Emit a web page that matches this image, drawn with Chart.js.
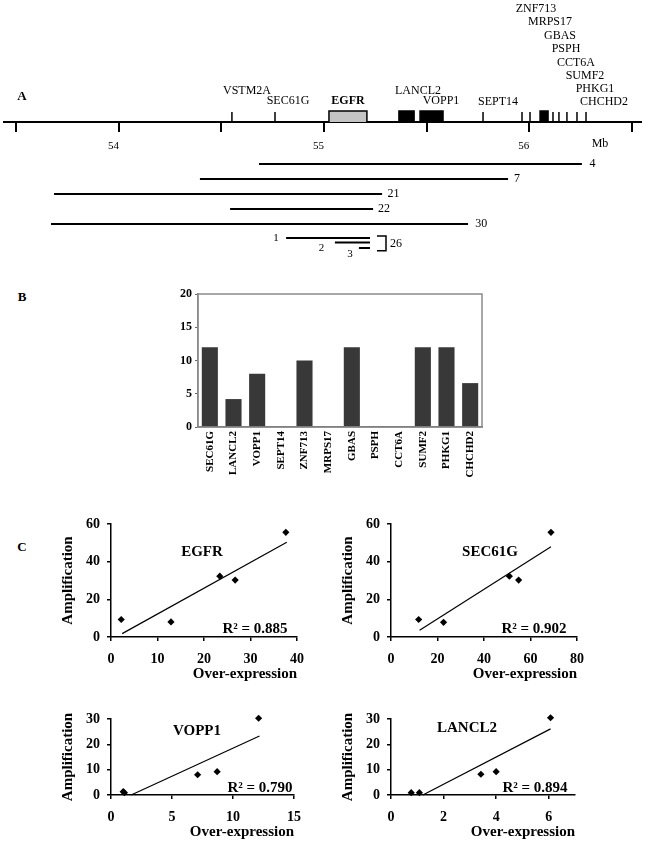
<!DOCTYPE html>
<html>
<head>
<meta charset="utf-8">
<script src="https://cdn.jsdelivr.net/npm/chart.js@4.4.1/dist/chart.umd.min.js"></script>
<style>
  html, body { margin: 0; padding: 0; background: #fff; }
  #fig { position: relative; width: 645px; height: 845px; overflow: hidden;
         font-family: 'Liberation Serif', 'Times New Roman', serif; color: #000; }
  #fig canvas { position: absolute; }
  .t { position: absolute; white-space: nowrap; transform: translate(-50%, -50%); line-height: 1; }
  .b { font-weight: bold; }
</style>
</head>
<body>
<div id="fig"></div>
<script>
// ---------- data: panel A (map, Mb) ----------
const majorTicks = [53.5, 54, 54.5, 55, 55.5, 56, 56.5];
const geneNames = ['VSTM2A', 'SEC61G', 'EGFR', 'LANCL2', 'VOPP1', 'SEPT14', 'ZNF713',
                   'MRPS17', 'GBAS', 'PSPH', 'CCT6A', 'SUMF2', 'PHKG1', 'CHCHD2'];
const geneStart = [54.551, 54.761, 55.024, 55.365, 55.468, 55.775, 55.965,
                   56.004, 56.053, 56.116, 56.145, 56.184, 56.233, 56.277];
const geneEnd   = [54.551, 54.761, 55.209, 55.439, 55.580, 55.775, 55.965,
                   56.004, 56.092, 56.116, 56.145, 56.184, 56.233, 56.277];

const caseLabels = ['4', '7', '21', '22', '30', '1', '2', '3'];
const caseStart = [54.683, 54.395, 53.684, 54.542, 53.669, 54.815, 55.053, 55.170];
const caseEnd   = [56.257, 55.897, 55.283, 55.239, 55.702, 55.224, 55.224, 55.224];
const bracketLabel = '26';

// ---------- data: panel B ----------
const barGenes = ['SEC61G', 'LANCL2', 'VOPP1', 'SEPT14', 'ZNF713', 'MRPS17',
                  'GBAS', 'PSPH', 'CCT6A', 'SUMF2', 'PHKG1', 'CHCHD2'];
const barValues = [12, 4.2, 8, 0, 10, 0, 12, 0, 0, 12, 12, 6.6];
const barTicks = [0, 5, 10, 15, 20];

// ---------- data: panel C ----------
const egfrX = [2.2, 12.9, 23.4, 26.7, 37.6];
const egfrY = [9.3, 8.0, 32.3, 30.2, 55.6];
const egfrFit = [[2.4, 1.8], [37.8, 50.3]];
const sec61gX = [11.9, 22.6, 50.9, 54.9, 68.8];
const sec61gY = [9.3, 7.8, 32.3, 30.2, 55.6];
const sec61gFit = [[12.3, 3.6], [68.8, 47.9]];
const vopp1X = [1.0, 1.1, 7.1, 8.7, 12.1];
const vopp1Y = [1.3, 0.9, 8.0, 9.2, 30.3];
const vopp1Fit = [[1.65, 0], [12.17, 23.3]];
const lanclX = [0.77, 1.08, 3.42, 4.0, 6.07];
const lanclY = [0.9, 0.9, 8.2, 9.2, 30.5];
const lanclFit = [[1.21, 0], [6.07, 26.1]];
const ticks40 = [0, 10, 20, 30, 40];
const ticks80 = [0, 20, 40, 60, 80];
const ticks15 = [0, 5, 10, 15];
const ticks6 = [0, 2, 4, 6];
const ampTicks60 = [0, 20, 40, 60];
const ampTicks30 = [0, 10, 20, 30];

// ---------- layout ----------
const fig = document.getElementById('fig');
const SERIF = "'Liberation Serif', 'Times New Roman', serif";
Chart.defaults.font.family = SERIF;
Chart.defaults.color = '#000';
Chart.defaults.animation = false;
Chart.defaults.plugins.legend.display = false;
Chart.defaults.plugins.tooltip.enabled = false;

function addCanvas(left, top, w, h) {
  const c = document.createElement('canvas');
  c.width = w; c.height = h;
  c.style.left = left + 'px'; c.style.top = top + 'px';
  c.style.width = w + 'px'; c.style.height = h + 'px';
  fig.appendChild(c);
  return c;
}
function txt(s, x, y, size, bold) {
  const d = document.createElement('div');
  d.className = 't' + (bold ? ' b' : '');
  d.textContent = s;
  d.style.left = x + 'px'; d.style.top = y + 'px'; d.style.fontSize = size + 'px';
  fig.appendChild(d);
}
const fixTicks = vals => s => { s.ticks = vals.map(v => ({value: v})); };

// panel A: gene map
const GENE_TICK = 10, GENE_BOX = 11;
const mapX = {type: 'linear', min: 53.44, max: 56.545};
new Chart(addCanvas(0, 0, 645, 160), {
  type: 'line',
  data: {
    datasets: geneNames.map((g, i) => {
      const s = geneStart[i], e = geneEnd[i], box = e > s;
      return {
        data: box ? [{x: s, y: 0}, {x: s, y: GENE_BOX}, {x: e, y: GENE_BOX}, {x: e, y: 0}]
                  : [{x: s, y: 0}, {x: s, y: GENE_TICK}],
        borderColor: '#000', borderWidth: 1.5, pointRadius: 0, clip: false,
        fill: box ? 'origin' : false,
        backgroundColor: g === 'EGFR' ? '#c4c4c4' : '#000'
      };
    })
  },
  options: {
    responsive: false, events: [],
    layout: {padding: {left: 4, right: 4, top: 0, bottom: 0}},
    scales: {
      x: {...mapX, z: 1, afterBuildTicks: fixTicks(majorTicks), afterFit: s => { s.height = 38; },
          grid: {drawOnChartArea: false, tickLength: 10, lineWidth: 2, color: '#000'},
          border: {color: '#000', width: 2},
          ticks: {autoSkip: false, maxRotation: 0, align: 'end', padding: 8, font: {size: 11},
                  callback: v => Number.isInteger(v) ? String(v) : ''}},
      y: {display: false, min: 0, max: 122}
    }
  }
});

// panel A: amplified segments
const caseRow = [0, 1, 2, 3, 4, 4.93, 5.23, 5.6];
const caseSide = ['end', 'end', 'end', 'end', 'end', 'start', 'start', 'start'];
const caseDx = [7.7, 6, 5.4, 5, 7.3, -10, -13.5, -9];
const caseDy = [0, 0, 0, 0, 0, 0, 6, 6];
const bracketX = [55.258, 55.302], bracketRows = [4.8, 5.78];
const caseLabelPlugin = {
  id: 'caseLabels',
  afterDatasetsDraw(chart) {
    const {ctx, scales: {x, y}} = chart;
    ctx.save();
    ctx.fillStyle = '#000';
    ctx.textBaseline = 'middle';
    caseLabels.forEach((t, i) => {
      const atEnd = caseSide[i] === 'end';
      const px = x.getPixelForValue(atEnd ? caseEnd[i] : caseStart[i]) + caseDx[i];
      const py = y.getPixelForValue(caseRow[i]) + caseDy[i];
      ctx.font = (atEnd ? 12 : 11) + 'px ' + SERIF;
      ctx.textAlign = atEnd ? 'left' : 'center';
      ctx.fillText(t, px, py);
    });
    ctx.font = '12px ' + SERIF;
    ctx.textAlign = 'left';
    ctx.fillText(bracketLabel, x.getPixelForValue(bracketX[1]) + 4,
                 y.getPixelForValue((bracketRows[0] + bracketRows[1]) / 2));
    ctx.restore();
  }
};
new Chart(addCanvas(0, 149, 645, 120), {
  type: 'line',
  data: {
    datasets: [
      ...caseLabels.map((c, i) => ({
        data: [{x: caseStart[i], y: caseRow[i]}, {x: caseEnd[i], y: caseRow[i]}],
        borderColor: '#000', borderWidth: 2, pointRadius: 0, clip: false
      })),
      {data: [{x: bracketX[0], y: bracketRows[0]}, {x: bracketX[1], y: bracketRows[0]},
              {x: bracketX[1], y: bracketRows[1]}, {x: bracketX[0], y: bracketRows[1]}],
       borderColor: '#000', borderWidth: 1.5, pointRadius: 0, clip: false}
    ]
  },
  options: {
    responsive: false, events: [],
    layout: {padding: {left: 4, right: 4, top: 0, bottom: 0}},
    scales: {x: {...mapX, display: false}, y: {display: false, reverse: true, min: -1, max: 7}}
  },
  plugins: [caseLabelPlugin]
});

// panel B
const framePlugin = {
  id: 'frame',
  afterDraw(chart) {
    const {ctx, chartArea: a} = chart;
    ctx.save();
    ctx.strokeStyle = '#8a8a8a';
    ctx.lineWidth = 1.5;
    ctx.strokeRect(a.left, a.top, a.right - a.left, a.bottom - a.top);
    ctx.restore();
  }
};
new Chart(addCanvas(150, 280, 350, 205), {
  type: 'bar',
  data: {
    labels: barGenes,
    datasets: [{data: barValues, backgroundColor: '#383838', borderWidth: 0,
                barPercentage: 0.68, categoryPercentage: 1}]
  },
  options: {
    responsive: false, events: [],
    layout: {padding: {left: 0, top: 14, right: 18, bottom: 3}},
    scales: {
      x: {afterFit: s => { s.height = 55; },
          grid: {display: false, drawTicks: false},
          border: {color: '#666', width: 1.5},
          ticks: {minRotation: 90, maxRotation: 90, autoSkip: false, padding: 4,
                  font: {size: 11, weight: 'bold'}}},
      y: {min: 0, max: 20, afterBuildTicks: fixTicks(barTicks), afterFit: s => { s.width = 48; },
          grid: {drawOnChartArea: false, tickLength: 3, color: '#666', lineWidth: 1},
          border: {color: '#888', width: 1.5},
          ticks: {padding: 3, font: {size: 12, weight: 'bold'}}}
    }
  },
  plugins: [framePlugin]
});

// panel C
const Y_W = 52, X_H = 46, PAD = {left: 8, top: 20, right: 20, bottom: 6};
function scatterPanel(area, xs, ys, fit, xTicks, xMax, yTicks) {
  const left = area.l - Y_W - PAD.left, top = area.t - PAD.top;
  const w = area.r + PAD.right - left, h = area.b + X_H + PAD.bottom - top;
  const grid = {drawOnChartArea: false, tickLength: 4, color: '#000', lineWidth: 1.5};
  const border = {color: '#000', width: 1.5};
  const tickFont = {size: 14, weight: 'bold'};
  const titleFont = {size: 15, weight: 'bold'};
  new Chart(addCanvas(left, top, w, h), {
    type: 'scatter',
    data: {
      datasets: [
        {data: xs.map((x, i) => ({x, y: ys[i]})), pointStyle: 'rectRot', pointRadius: 3.6,
         backgroundColor: '#000', borderColor: '#000', borderWidth: 0, clip: false},
        {data: fit.map(p => ({x: p[0], y: p[1]})), showLine: true, pointRadius: 0,
         borderColor: '#000', borderWidth: 1.2, clip: false}
      ]
    },
    options: {
      responsive: false, events: [],
      layout: {padding: PAD},
      scales: {
        x: {min: 0, max: xMax, afterBuildTicks: fixTicks(xTicks), afterFit: s => { s.height = X_H; },
            grid, border, ticks: {padding: 10, font: tickFont, maxRotation: 0, autoSkip: false},
            title: {display: true, text: 'Over-expression', align: 'end', padding: 0, font: titleFont}},
        y: {min: 0, max: yTicks[yTicks.length - 1], afterBuildTicks: fixTicks(yTicks),
            afterFit: s => { s.width = Y_W; },
            grid, border, ticks: {padding: 7, font: tickFont},
            title: {display: true, text: 'Amplification', padding: 0, font: titleFont}}
      }
    }
  });
}
scatterPanel({l: 111, r: 297, t: 524, b: 637}, egfrX, egfrY, egfrFit, ticks40, 40, ampTicks60);
scatterPanel({l: 391, r: 577, t: 524, b: 637}, sec61gX, sec61gY, sec61gFit, ticks80, 80, ampTicks60);
scatterPanel({l: 111, r: 294, t: 719, b: 795}, vopp1X, vopp1Y, vopp1Fit, ticks15, 15, ampTicks30);
scatterPanel({l: 391, r: 575, t: 719, b: 795}, lanclX, lanclY, lanclFit, ticks6, 7, ampTicks30);

// ---------- text ----------
const geneLabelX = [247, 288, 348, 418, 441, 498, 536, 550, 560, 566, 576, 585, 595, 604];
const geneLabelY = [90, 100, 100, 90, 100, 101, 8, 21, 35, 48, 62, 75, 88, 101];
geneNames.forEach((g, i) => txt(g, geneLabelX[i], geneLabelY[i], 12, g === 'EGFR'));
txt('Mb', 600, 143, 12);
txt('A', 22, 95, 13, true);
txt('B', 22, 296, 13, true);
txt('C', 22, 546, 13, true);

txt('EGFR', 202, 551, 15, true);
txt('SEC61G', 490, 551, 15, true);
txt('VOPP1', 197, 730, 15, true);
txt('LANCL2', 467, 727, 15, true);
txt('R\u00b2 = 0.885', 255, 628, 15, true);
txt('R\u00b2 = 0.902', 534, 628, 15, true);
txt('R\u00b2 = 0.790', 260, 787, 15, true);
txt('R\u00b2 = 0.894', 535, 787, 15, true);
</script>
</body>
</html>
